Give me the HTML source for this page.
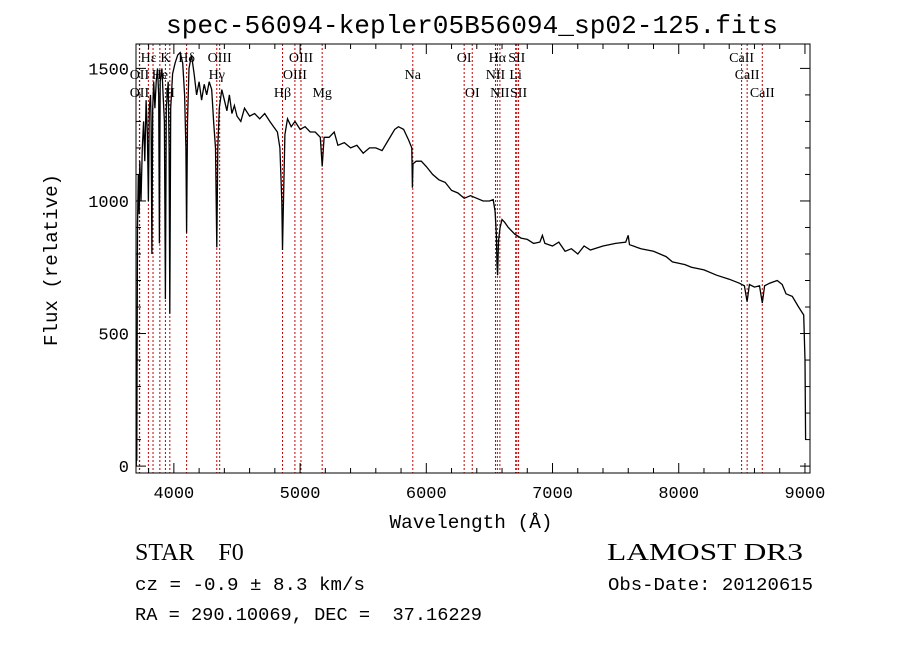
<!DOCTYPE html>
<html><head><meta charset="utf-8"><style>
html,body{margin:0;padding:0;background:#fff;}
svg{display:block;}
text{fill:#000;white-space:pre;}
.mono{font-family:"Liberation Mono","DejaVu Sans Mono",monospace;}
.serif{font-family:"Liberation Serif","DejaVu Serif",serif;}
</style></head><body>
<svg id="chart" width="900" height="649" viewBox="0 0 900 649" xmlns="http://www.w3.org/2000/svg" xml:space="preserve">
<text class="mono" x="472" y="33" font-size="26" text-anchor="middle" textLength="612" lengthAdjust="spacingAndGlyphs">spec-56094-kepler05B56094_sp02-125.fits</text>
<g id="lines"></g>
<g id="axes"></g>
<path id="spec" fill="none" stroke="#000" stroke-width="1.3"/>
<rect x="136" y="44" width="674" height="429" fill="none" stroke="#000" stroke-width="1"/>
<text class="mono" x="471" y="528" font-size="19" text-anchor="middle" textLength="163" lengthAdjust="spacingAndGlyphs">Wavelength (Å)</text>
<text class="mono" x="0" y="0" font-size="19" text-anchor="middle" transform="translate(57,260) rotate(-90)" textLength="172" lengthAdjust="spacingAndGlyphs">Flux (relative)</text>
<text class="serif" x="135" y="560" font-size="24">STAR    F0</text>
<text class="serif" x="607" y="560" font-size="24" textLength="196" lengthAdjust="spacingAndGlyphs">LAMOST DR3</text>
<text class="mono" x="135" y="590" font-size="18" textLength="230" lengthAdjust="spacingAndGlyphs">cz = -0.9 ± 8.3 km/s</text>
<text class="mono" x="608" y="590" font-size="18" textLength="205" lengthAdjust="spacingAndGlyphs">Obs-Date: 20120615</text>
<text class="mono" x="135" y="620" font-size="18" textLength="347" lengthAdjust="spacingAndGlyphs">RA = 290.10069, DEC =  37.16229</text>
</svg>
<script>
const wave=[3702,3704,3706,3712,3718,3725,3730,3740,3750,3760,3770,3780,3790,3798,3805,3815,3820,3826,3832,3840,3850,3860,3870,3880,3885,3892,3905,3915,3925,3933,3940,3955,3962,3968,3975,3990,4010,4030,4050,4070,4085,4095,4101,4108,4120,4140,4160,4180,4200,4220,4240,4260,4280,4300,4315,4330,4340,4348,4360,4380,4400,4420,4440,4460,4480,4500,4530,4560,4600,4640,4680,4720,4760,4790,4820,4840,4855,4861,4866,4880,4900,4930,4960,5000,5040,5080,5120,5160,5175,5190,5230,5270,5300,5350,5400,5450,5500,5550,5600,5650,5700,5750,5780,5820,5860,5885,5890,5895,5920,5960,6000,6050,6100,6150,6200,6250,6300,6350,6400,6450,6500,6530,6545,6555,6560,6565,6572,6585,6600,6620,6650,6700,6750,6800,6850,6900,6920,6940,7000,7050,7100,7150,7200,7250,7300,7400,7500,7580,7600,7610,7700,7800,7900,7950,8000,8050,8100,8200,8300,8400,8480,8520,8542,8560,8600,8640,8662,8680,8720,8780,8820,8850,8900,8950,8990,9000,9005];
const flux=[0,260,20,900,1100,950,1150,1000,1200,1300,1150,1380,1250,1000,1350,1400,1300,800,1350,1450,1350,1450,1500,1400,840,1450,1500,1400,1300,630,1350,1450,1200,575,1350,1480,1520,1550,1560,1520,1400,1200,880,1300,1500,1550,1480,1400,1450,1380,1440,1400,1450,1420,1300,1200,825,1200,1350,1420,1380,1340,1400,1330,1360,1320,1300,1350,1320,1330,1310,1330,1300,1280,1260,1200,1000,815,950,1250,1310,1280,1300,1270,1280,1260,1260,1240,1130,1240,1240,1260,1210,1220,1200,1210,1180,1200,1200,1190,1230,1270,1280,1270,1230,1200,1050,1140,1150,1150,1130,1100,1080,1070,1040,1030,1010,1020,1010,1000,1000,1005,960,870,760,720,850,900,930,920,900,875,860,855,840,845,870,840,830,845,810,820,800,830,815,830,840,845,870,835,820,810,790,770,765,760,750,740,720,705,690,680,620,685,675,680,615,680,690,700,685,650,640,600,570,400,100];
const xTicks=[4000,5000,6000,7000,8000,9000];
const yTicks=[0,500,1000,1500];
const lineWaves=[3727,3729,3798,3835,3889,3933,3968,4101,4340,4363,4861,4959,5007,5175,5893,6300,6364,6548,6563,6583,6708,6717,6731,8498,8542,8662];
const labelNames=["Hε","K","Hδ","OIII","OIII","OI","Hα","SII","CaII","OII","He","Hγ","OIII","Na","NII","Li","CaII","OII","H","Hβ","Mg","OI","NII","SII","CaII"];
const labelWaves=[3800,3933,4101,4363,5007,6300,6563,6717,8498,3727,3889,4340,4959,5893,6548,6708,8542,3727,3968,4861,5175,6364,6583,6731,8662];
const labelRows=[0,0,0,0,0,0,0,0,0,1,1,1,1,1,1,1,1,2,2,2,2,2,2,2,2];
const X0=3700,X1=9040,Y0=-26,Y1=1592,L=136,R=810,T=44,B=473;
const sx=w=>L+(w-X0)/(X1-X0)*(R-L);
const sy=f=>B-(f-Y0)/(Y1-Y0)*(B-T);
const NS="http://www.w3.org/2000/svg";
function mk(tag,attrs,parent){const e=document.createElementNS(NS,tag);for(const k in attrs)e.setAttribute(k,attrs[k]);parent.appendChild(e);return e;}
let d="";
for(let i=0;i<wave.length;i++){d+=(i?"L":"M")+sx(wave[i]).toFixed(1)+" "+sy(flux[i]).toFixed(1);}
document.getElementById("spec").setAttribute("d",d);
const lg=document.getElementById("lines");
lineWaves.forEach(w=>{
  const l=mk("line",{x1:sx(w),x2:sx(w),y1:T,y2:B,stroke:"#c00000","stroke-width":1,"stroke-dasharray":"2,2"},lg);
  
  
});
const rowY=[62,79,97];
labelNames.forEach((n,i)=>{
  const t=mk("text",{x:sx(labelWaves[i]),y:rowY[labelRows[i]],"font-size":14,"text-anchor":"middle","class":"serif"},lg);
  t.textContent=n;
  
  
});
const ax=document.getElementById("axes");
for(let w=3800;w<=9000;w+=200){
  const major=(w%1000===0);const len=major?10:5;
  mk("line",{x1:sx(w),x2:sx(w),y1:B,y2:B-len,stroke:"#000"},ax);
  mk("line",{x1:sx(w),x2:sx(w),y1:T,y2:T+len,stroke:"#000"},ax);
}
for(let f=0;f<=1500;f+=100){
  const major=(f%500===0);const len=major?10:5;
  mk("line",{x1:L,x2:L+len,y1:sy(f),y2:sy(f),stroke:"#000"},ax);
  mk("line",{x1:R,x2:R-len,y1:sy(f),y2:sy(f),stroke:"#000"},ax);
}
xTicks.forEach(v=>{
  const t=mk("text",{x:sx(v),y:498,"font-size":17,"text-anchor":"middle","class":"mono"},ax);
  t.textContent=v;
  
  
});
yTicks.forEach(v=>{
  const t=mk("text",{x:129,y:sy(v)+6,"font-size":17,"text-anchor":"end","class":"mono"},ax);
  t.textContent=v;
  
  
});
</script>
</body></html>
